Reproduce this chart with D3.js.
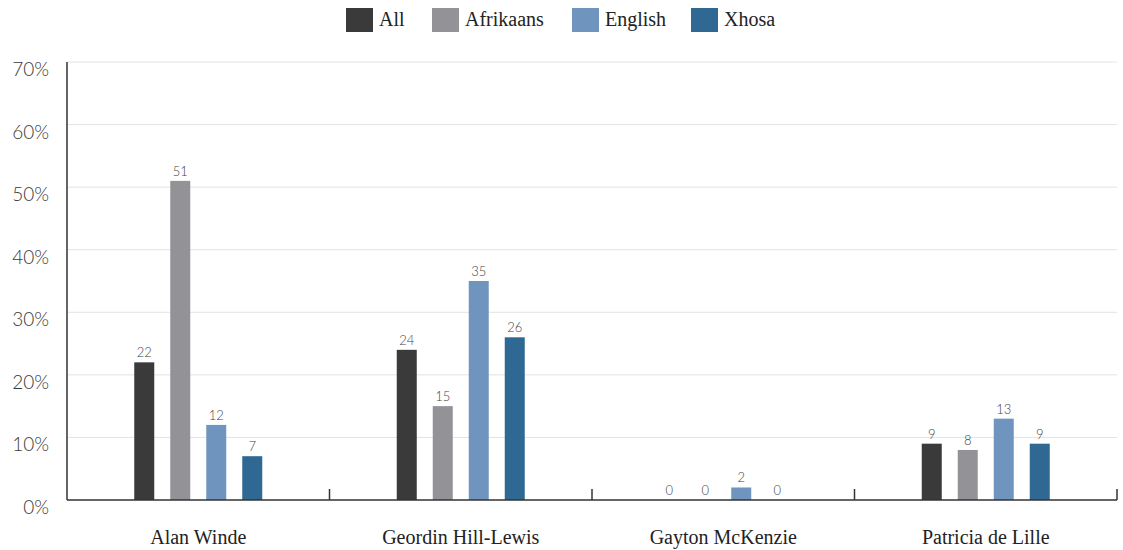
<!DOCTYPE html>
<html><head><meta charset="utf-8">
<script src="https://cdn.jsdelivr.net/npm/d3@7"></script>
<style>body{margin:0;background:#fff;} svg{display:block;}</style>
</head><body>
<svg id="c" width="1123" height="550"></svg>
<script>
const categories = ["Alan Winde", "Geordin Hill-Lewis", "Gayton McKenzie", "Patricia de Lille"];
const seriesNames = ["All", "Afrikaans", "English", "Xhosa"];
const seriesColors = ["#3a3a3a", "#939397", "#6f95bf", "#2e6893"];
const allValues = [22, 24, 0, 9];
const afrikaansValues = [51, 15, 0, 8];
const englishValues = [12, 35, 2, 13];
const xhosaValues = [7, 26, 0, 9];
const yTicks = [0, 10, 20, 30, 40, 50, 60, 70];

const seriesValues = [allValues, afrikaansValues, englishValues, xhosaValues];
const svg = d3.select("#c");
const L = 67, R = 1117, T = 62, B = 500;

const x = d3.scaleBand().domain(categories).range([L, R]).padding(0);
const y = d3.scaleLinear().domain([0, 70]).range([B, T]);
const barW = 20, step = 36;

// gridlines
svg.append("g").selectAll("line").data(yTicks.filter(d => d > 0)).join("line")
  .attr("x1", L).attr("x2", R).attr("y1", d => y(d)).attr("y2", d => y(d))
  .attr("stroke", "#e3e3e3").attr("stroke-width", 1);

// y labels
svg.append("g").selectAll("text").data(yTicks).join("text")
  .attr("x", 49).attr("y", d => y(d) + 14).attr("text-anchor", "end")
  .attr("font-family", "Lato, 'Open Sans', sans-serif").attr("font-size", 19)
  .attr("font-weight", 300)
  .attr("fill", "#3a3a3a").text(d => d + "%");

// bars
seriesValues.forEach((vals, si) => {
  const g = svg.append("g");
  const xo = c => x(c) + x.bandwidth() / 2 + (si - 1.5) * step - barW / 2;
  g.selectAll("rect").data(categories).join("rect")
    .attr("x", c => xo(c)).attr("width", barW)
    .attr("y", (c, i) => y(vals[i])).attr("height", (c, i) => B - y(vals[i]))
    .attr("fill", seriesColors[si]);
  g.selectAll("text").data(categories).join("text")
    .attr("x", c => xo(c) + barW / 2).attr("y", (c, i) => y(vals[i]) - 5)
    .attr("text-anchor", "middle")
    .attr("font-family", "Lato, 'Open Sans', sans-serif").attr("font-size", 13)
    .attr("font-weight", 300)
    .attr("fill", "#444").text((c, i) => vals[i]);
});

// axes
svg.append("line").attr("x1", L).attr("x2", L).attr("y1", T).attr("y2", B)
  .attr("stroke", "#333").attr("stroke-width", 1.5);
svg.append("line").attr("x1", L).attr("x2", R).attr("y1", B).attr("y2", B)
  .attr("stroke", "#333").attr("stroke-width", 1.5);
const bounds = categories.map(c => x(c)).concat([R]);
svg.append("g").selectAll("line").data(bounds.slice(1)).join("line")
  .attr("x1", d => d).attr("x2", d => d).attr("y1", B).attr("y2", B - 11)
  .attr("stroke", "#333").attr("stroke-width", 1.5);

// category labels
svg.append("g").selectAll("text").data(categories).join("text")
  .attr("x", c => x(c) + x.bandwidth() / 2).attr("y", 544)
  .attr("text-anchor", "middle")
  .attr("font-family", "'Liberation Serif', 'DejaVu Serif', serif").attr("font-size", 20)
  .attr("fill", "#222").text(c => c);

// legend
const legX = [346, 432, 572, 691];
const lg = svg.append("g");
seriesNames.forEach((n, i) => {
  lg.append("rect").attr("x", legX[i]).attr("y", 8).attr("width", 27).attr("height", 24)
    .attr("fill", seriesColors[i]);
  lg.append("text").attr("x", legX[i] + 33).attr("y", 26)
    .attr("font-family", "'Liberation Serif', 'DejaVu Serif', serif").attr("font-size", 20)
    .attr("fill", "#222").text(n);
});
</script>
</body></html>
